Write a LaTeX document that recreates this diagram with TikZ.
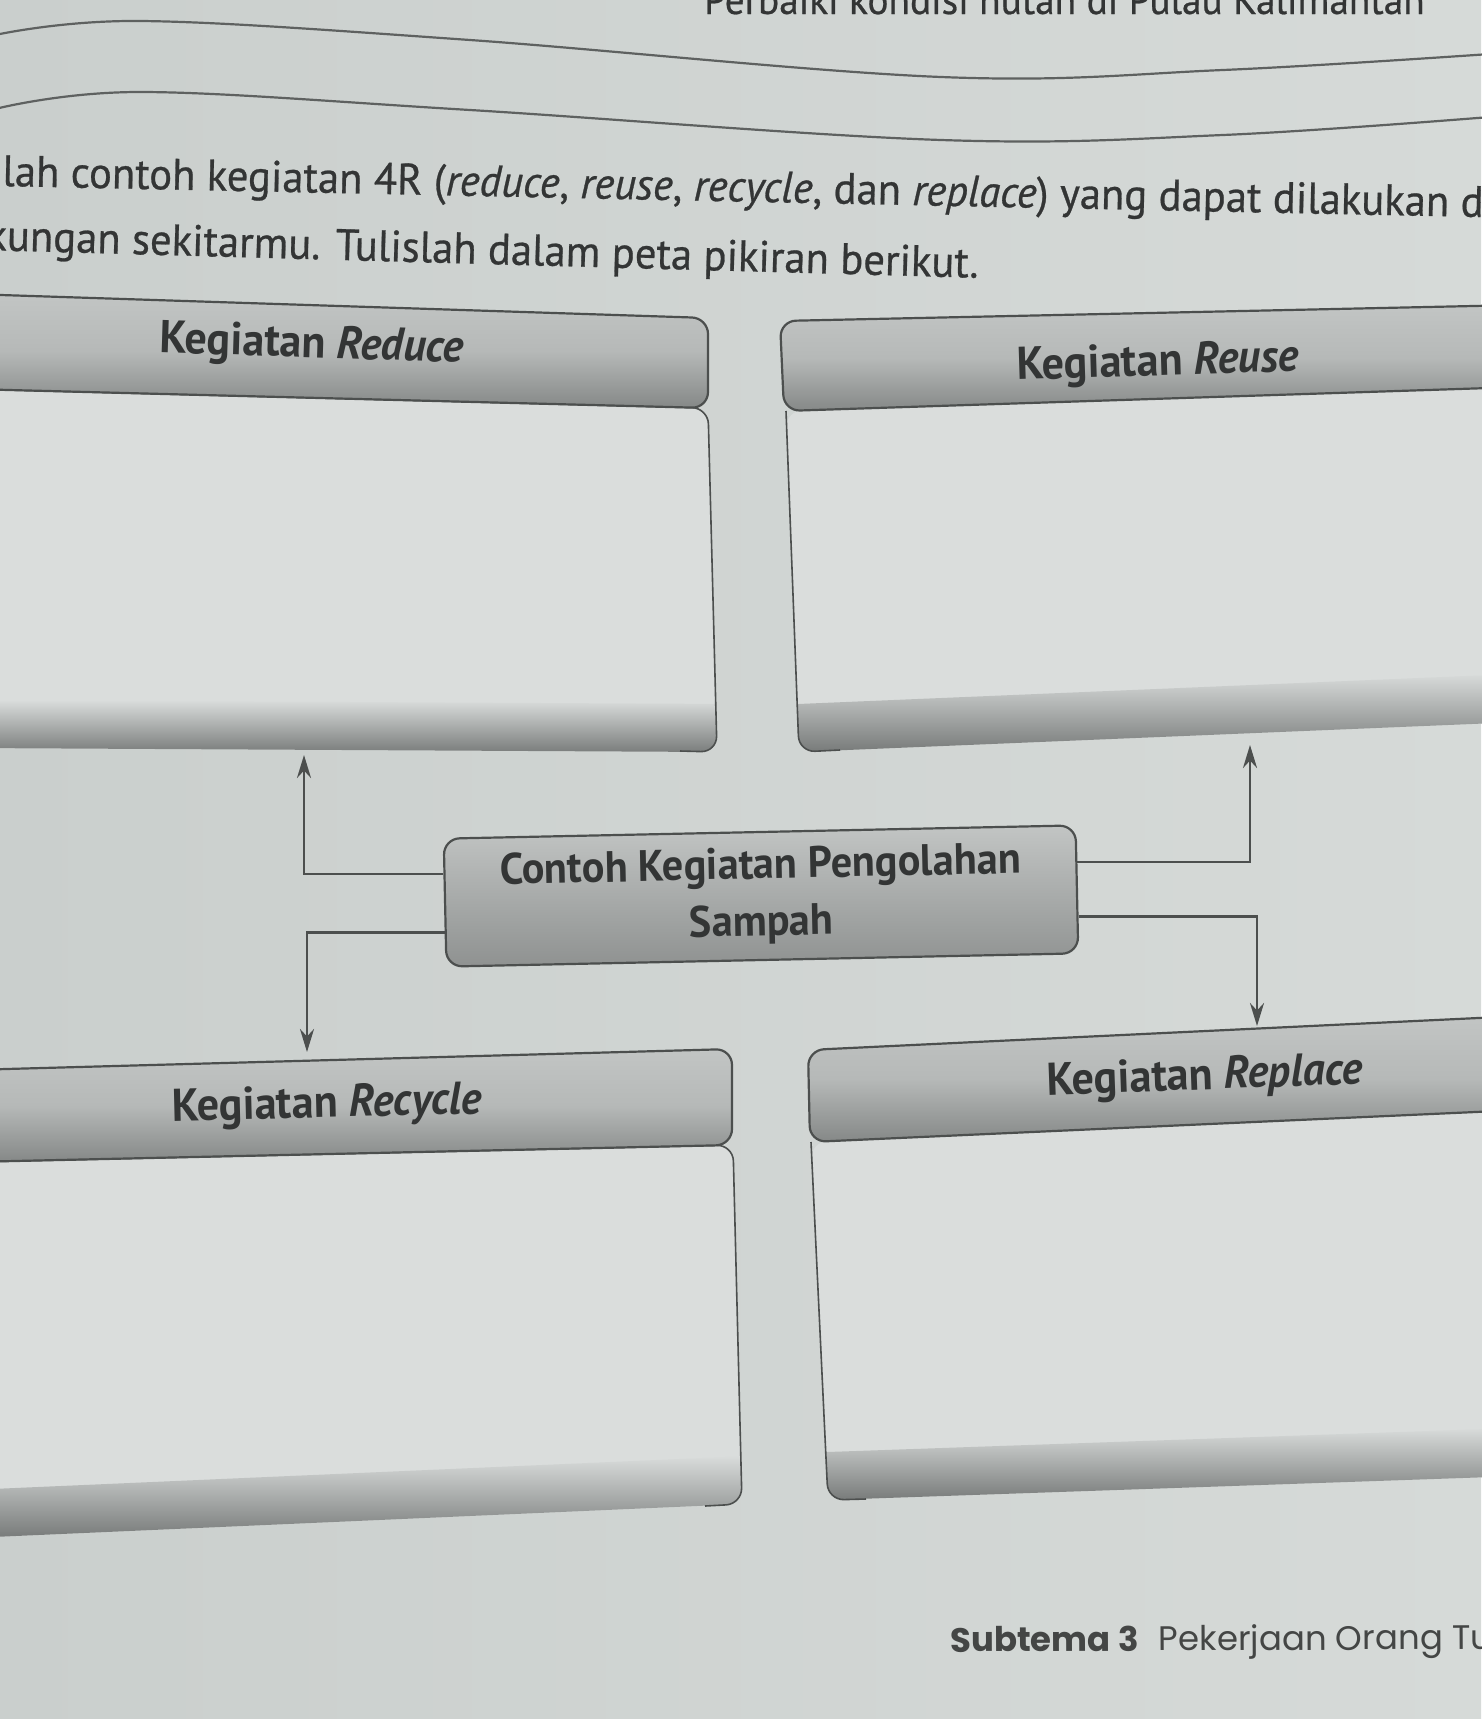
\documentclass[tikz,border=0pt]{standalone}
\usepackage{fontspec}
\setmainfont{PT Sans}
\newfontfamily\bookfont{PT Sans}[FakeStretch=0.97, FakeBold=0.6]
\newfontfamily\headfont{PT Sans}[FakeStretch=0.96]
\newfontfamily\footfont{Poppins}
\usetikzlibrary{calc,arrows.meta}
\definecolor{paper}{HTML}{D6DAD8}
\definecolor{paperdark}{HTML}{CACFCD}
\definecolor{ink}{HTML}{333535}
\definecolor{footink}{HTML}{444645}
\definecolor{edge}{HTML}{4C4F4E}
\definecolor{headtop}{HTML}{C2C5C4}
\definecolor{headbot}{HTML}{858887}
\definecolor{bodyfill}{HTML}{DADDDC}
\definecolor{bodyshadow}{HTML}{6F7271}
\tikzset{
  headline/.style={draw=edge, line width=2.2pt, rounded corners=16pt},
  headshade/.style={top color=headtop, bottom color=headbot, middle color=headtop!80!headbot, rounded corners=16pt},
  bodyline/.style={draw=edge, line width=1.6pt, rounded corners=16pt},
  bandshade/.style={top color=bodyfill, bottom color=bodyshadow},
  headtext/.style={text=ink, font=\headfont\fontsize{46}{52}\selectfont\bfseries, inner sep=0pt},
  instr/.style={text=ink, font=\bookfont\fontsize{44}{50}\selectfont, inner sep=0pt, anchor=base west},
  wave/.style={draw=edge!90, line width=2.2pt},
  conn/.style={draw=edge, line width=2.6pt, -{Stealth[length=23pt,width=14pt]}},
  centerbox/.style={draw=edge, line width=2.2pt, rounded corners=16pt, top color=headtop, bottom color=headbot!92!white,
     minimum width=632pt, minimum height=128pt, inner sep=0pt, align=center, text=ink,
     font=\headfont\fontsize{44}{57}\selectfont\bfseries}
}
\begin{document}
\begin{tikzpicture}[x=1pt,y=-1pt]
\useasboundingbox (0,0) rectangle (1481,1719);
\fill[left color=paperdark, right color=paper] (0,0) rectangle (1481,1719);

% clipped running text at the very top
\node[instr, font=\bookfont\fontsize{40.5}{46}\selectfont] (toptext) at (704,14) {Perbaiki kondisi hutan di Pulau Kalimantan};

% answer lines
\draw[wave] plot[smooth, tension=0.6] coordinates {(-5,35) (141,21) (470,40) (941,77) (1223,70) (1490,54)};
\draw[wave] plot[smooth, tension=0.6] coordinates {(-5,109) (141,92) (470,110) (941,140) (1223,135) (1490,117)};

% instruction
\node[instr, rotate=-1.2] (instr1) at (2,186) {lah contoh kegiatan 4R (\textit{reduce}, \textit{reuse}, \textit{recycle}, dan \textit{replace}) yang dapat dilakukan d};
\node[instr, rotate=-1.6] (instr2) at (-14,250) {kungan sekitarmu. Tulislah dalam peta pikiran berikut.};

% ---------- Reduce ----------
\begin{scope}
  \clip[rounded corners=16pt] (-30,389) -- (708,408) -- (717,752) -- (-30,748) -- cycle;
  \fill[bodyfill] (-30,380) rectangle (730,760);
  \begin{scope}[shift={(-30,748)}, rotate=-0.3]
    \shade[bandshade] (-20,-48) rectangle (780,6);
  \end{scope}
\end{scope}
\draw[bodyline] (-30,389) -- (708,408) -- (717,752) -- (680,751);
\shade[headshade] (-30,294) -- (708,318) -- (708,408) -- (-30,389) -- cycle;
\draw[headline] (-30,294) -- (708,318) -- (708,408) -- (-30,389) -- cycle;
\node[headtext, rotate=-1.8] (reduceT) at (312,346) {Kegiatan \textit{Reduce}};

% ---------- Reuse ----------
\begin{scope}
  \clip[rounded corners=16pt] (786,411) -- (1520,387) -- (1520,722) -- (799,752) -- cycle;
  \fill[bodyfill] (770,380) rectangle (1530,760);
  \begin{scope}[shift={(799,752)}, rotate=2.4]
    \shade[bandshade] (-20,-48) rectangle (760,6);
  \end{scope}
\end{scope}
\draw[bodyline] (840,750) -- (799,752) -- (786,411);
\shade[headshade] (780,321) -- (1520,305) -- (1520,387) -- (784,411) -- cycle;
\draw[headline] (1520,305) -- (780,321) -- (784,411) -- (1520,387);
\node[headtext, rotate=1.8] (reuseT) at (1158,364) {Kegiatan \textit{Reuse}};

% ---------- Recycle ----------
\begin{scope}
  \clip[rounded corners=16pt] (-30,1162) -- (733,1145) -- (742,1504) -- (-30,1538) -- cycle;
  \fill[bodyfill] (-30,1140) rectangle (750,1545);
  \begin{scope}[shift={(-30,1538)}, rotate=2.5]
    \shade[bandshade] (-20,-48) rectangle (800,6);
  \end{scope}
\end{scope}
\draw[bodyline] (-30,1162) -- (733,1145) -- (742,1504) -- (705,1506);
\shade[headshade] (-30,1070) -- (732,1049) -- (732,1145) -- (-30,1162) -- cycle;
\draw[headline] (-30,1070) -- (732,1049) -- (732,1145) -- (-30,1162) -- cycle;
\node[headtext, rotate=1.4] (recycleT) at (327,1106) {Kegiatan \textit{Recycle}};

% ---------- Replace ----------
\begin{scope}
  \clip[rounded corners=16pt] (811,1142) -- (1520,1110) -- (1520,1476) -- (828,1500) -- cycle;
  \fill[bodyfill] (800,1100) rectangle (1530,1510);
  \begin{scope}[shift={(828,1500)}, rotate=2.0]
    \shade[bandshade] (-20,-48) rectangle (720,6);
  \end{scope}
\end{scope}
\draw[bodyline] (866,1499) -- (828,1500) -- (811,1142);
\shade[headshade] (808,1050) -- (1520,1016) -- (1520,1110) -- (810,1142) -- cycle;
\draw[headline] (1520,1016) -- (808,1050) -- (810,1142) -- (1520,1110);
\node[headtext, rotate=2.1] (replaceT) at (1205,1078) {Kegiatan \textit{Replace}};

% ---------- centre ----------
\node[centerbox, rotate=1.2] (center) at (761,896) {Contoh Kegiatan Pengolahan\\Sampah};

\coordinate (cL1) at ($(center.north west)!0.28!(center.south west)$);
\coordinate (cL2) at ($(center.north west)!0.73!(center.south west)$);
\coordinate (cR1) at ($(center.north east)!0.29!(center.south east)$);
\coordinate (cR2) at ($(center.north east)!0.71!(center.south east)$);
\coordinate (reduceTip) at (304,755);
\coordinate (recycleTip) at (307,1052);
\coordinate (reuseTip) at (1250,745);
\coordinate (replaceTip) at (1257,1026);

\draw[conn] (cL1) -| (reduceTip);
\draw[conn] (cL2) -| (recycleTip);
\draw[conn] (cR1) -| (reuseTip);
\draw[conn] (cR2) -| (replaceTip);

% footer
\node[anchor=base west, inner sep=0pt, text=footink, font=\footfont\fontsize{34}{40}\selectfont, rotate=0.3] (footer) at (950,1652) {\textbf{Subtema 3}\hspace{20pt}Pekerjaan Orang Tua};
\end{tikzpicture}
\end{document}
